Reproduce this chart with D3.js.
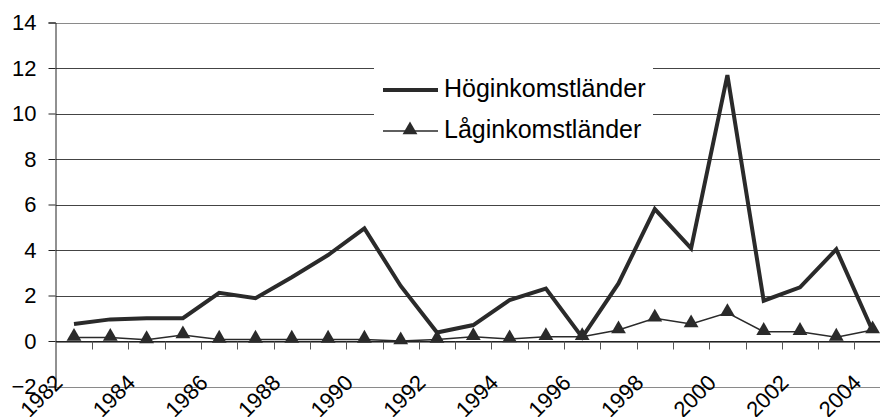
<!DOCTYPE html>
<html>
<head>
<meta charset="utf-8">
<script src="https://cdn.jsdelivr.net/npm/d3@7"></script>
<style>
  html, body { margin: 0; padding: 0; background: #fff; }
  svg { display: block; font-family: "Liberation Sans", Arial, sans-serif; }
</style>
</head>
<body>
<svg id="chart" width="880" height="417"></svg>
<script>
const years = ["1982","1983","1984","1985","1986","1987","1988","1989","1990","1991","1992","1993","1994","1995","1996","1997","1998","1999","2000","2001","2002","2003","2004"];
const hogValues = [0.75,0.95,1.0,1.0,2.12,1.88,2.8,3.78,4.95,2.42,0.37,0.7,1.8,2.3,0.16,2.53,5.8,4.07,11.69,1.77,2.36,4.03,0.45];
const lagValues = [0.15,0.15,0.05,0.26,0.07,0.07,0.07,0.07,0.07,0.0,0.07,0.19,0.09,0.19,0.19,0.48,1.0,0.75,1.24,0.41,0.41,0.16,0.48];
const yTicks = [-2,0,2,4,6,8,10,12,14];
const xLabels = ["1982","1984","1986","1988","1990","1992","1994","1996","1998","2000","2002","2004"];
const seriesNames = ["Höginkomstländer","Låginkomstländer"];

const svg = d3.select("#chart");
const left = 55.85, band = 36.3;
const x = d3.scaleBand().domain(years).range([left, left + band * years.length]).paddingInner(0).paddingOuter(0);
const y = d3.scaleLinear().domain([-2, 14]).range([386.5, 22.5]);
const cx = d => x(d) + x.bandwidth() / 2;
const ink = "#2a2a2a";

// gridlines
svg.append("g").selectAll("line").data(yTicks).join("line")
  .attr("x1", left).attr("x2", 880)
  .attr("y1", d => Math.round(y(d)) + 0.5).attr("y2", d => Math.round(y(d)) + 0.5)
  .attr("stroke", d => (d === 14 || d === -2) ? "#8a8a8a" : "#444").attr("stroke-width", 1);

// y axis
const yAxis = d3.axisLeft(y).tickValues(yTicks).tickSize(7).tickPadding(12).tickFormat(d3.format("d"));
const gy = svg.append("g").attr("transform", `translate(${Math.round(left) - 0.5},0)`).call(yAxis);
gy.select(".domain").attr("stroke", "#222");
gy.selectAll(".tick line").attr("stroke", "#222");
gy.selectAll(".tick text").attr("font-size", 22).attr("fill", "#000")
  .attr("font-family", "Liberation Sans, Arial, sans-serif");

// x axis at y = 0
const xAxis = d3.axisBottom(x).tickSize(0).tickFormat("");
const gx = svg.append("g").attr("transform", `translate(0,${Math.round(y(0)) + 0.5})`).call(xAxis);
gx.select(".domain").attr("stroke", "#000");
// category boundary tick marks
gx.append("g").selectAll("line").data(years.slice(1)).join("line")
  .attr("x1", d => Math.round(x(d)) + 0.5).attr("x2", d => Math.round(x(d)) + 0.5)
  .attr("y1", 0).attr("y2", 8).attr("stroke", "#555");

// x labels, rotated -45 degrees
const labelY = 384;
svg.append("g").attr("class", "xlabels").selectAll("text").data(xLabels).join("text")
  .attr("x", d => cx(d) - 10)
  .attr("y", labelY)
  .attr("transform", d => "rotate(-45," + (cx(d) - 10) + "," + labelY + ")")
  .style("text-anchor", "end")
  .attr("font-size", 22).attr("fill", "#000")
  .text(d => d);

// lines
const lineGen = vals => d3.line().x((d, i) => cx(years[i])).y(d => y(d))(vals);
svg.append("path").attr("d", lineGen(hogValues)).attr("fill", "none")
  .attr("stroke", ink).attr("stroke-width", 4).attr("stroke-linejoin", "miter");
svg.append("path").attr("d", lineGen(lagValues)).attr("fill", "none")
  .attr("stroke", ink).attr("stroke-width", 1.5);
const tri = d3.symbol().type(d3.symbolTriangle).size(95);
svg.append("g").selectAll("path").data(lagValues).join("path")
  .attr("transform", (d, i) => `translate(${cx(years[i])},${y(d) - 1})`)
  .attr("d", tri).attr("fill", ink);

// legend
const lg = svg.append("g");
lg.append("rect").attr("x", 374).attr("y", 68).attr("width", 279).attr("height", 89).attr("fill", "#fff");
lg.append("line").attr("x1", 383).attr("x2", 438).attr("y1", 90).attr("y2", 90)
  .attr("stroke", ink).attr("stroke-width", 4);
lg.append("line").attr("x1", 383).attr("x2", 438).attr("y1", 131).attr("y2", 131)
  .attr("stroke", ink).attr("stroke-width", 1.5);
lg.append("path").attr("d", tri).attr("transform", "translate(410,130)").attr("fill", ink);
lg.selectAll("text.leg").data(seriesNames).join("text").attr("class", "leg")
  .attr("x", 444).attr("y", (d, i) => 97 + i * 41)
  .attr("font-size", 25).attr("fill", "#000").text(d => d);
</script>
</body>
</html>
